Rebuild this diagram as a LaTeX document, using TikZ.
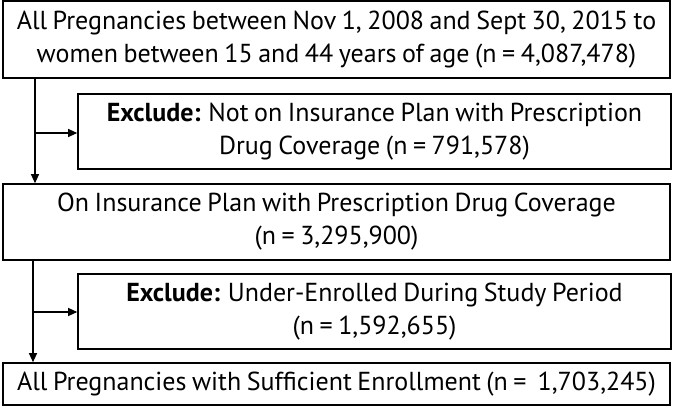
\documentclass[tikz,border=0pt]{standalone}
\usepackage{fontspec}
\setmainfont[WordSpace=0.8]{PT Sans}
\usetikzlibrary{arrows.meta}
\begin{document}
\begin{tikzpicture}[x=1pt,y=-1pt,
  box/.style={draw,line width=1.6pt,inner sep=0pt,align=center,font=\fontsize{26}{33}\selectfont},
  arr/.style={line width=1.2pt,-{Triangle[length=9pt,width=8pt]}}]
\useasboundingbox (0,0) rectangle (675,409);
\node[box,minimum width=667pt,minimum height=77pt] (b1) at (336.5,39.5) {All Pregnancies between Nov 1, 2008 and Sept 30, 2015 to\\women between 15 and 44 years of age (n = 4,087,478)};
\node[box,minimum width=593pt,minimum height=75pt] (b2) at (374.5,131.5) {\textbf{Exclude:} Not on Insurance Plan with Prescription\\Drug Coverage (n = 791,578)};
\node[box,minimum width=667pt,minimum height=76pt] (b3) at (336.5,222) {On Insurance Plan with Prescription Drug Coverage\\(n = 3,295,900)};
\node[box,minimum width=593pt,minimum height=75pt] (b4) at (374.5,311.5) {\textbf{Exclude:} Under-Enrolled During Study Period\\(n = 1,592,655)};
\node[box,minimum width=667pt,minimum height=42pt] (b5) at (336.5,384) {All Pregnancies with Sufficient Enrollment (n =~~1,703,245)};
\coordinate (c1) at (35,0);
\coordinate (c2) at (33,0);
\coordinate (h1) at (0,133);
\coordinate (h2) at (0,312);
\draw[arr] (b1.south -| c1) -- (b3.north -| c1);
\draw[arr] (c1 |- h1) -- (b2.west |- h1);
\draw[arr] (b3.south -| c2) -- (b5.north -| c2);
\draw[arr] (c2 |- h2) -- (b4.west |- h2);
\end{tikzpicture}
\end{document}
